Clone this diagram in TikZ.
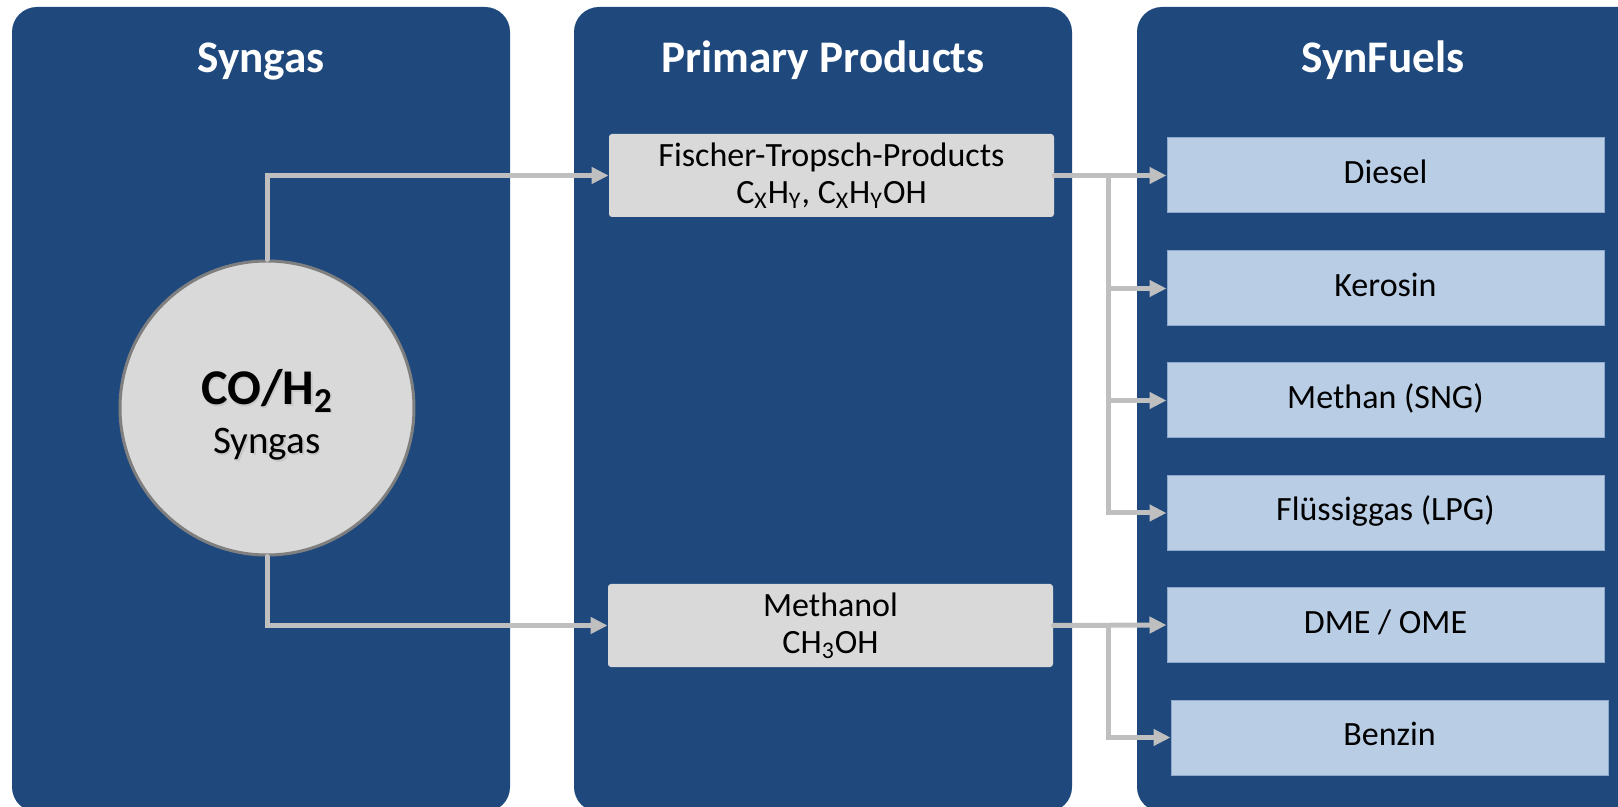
\documentclass[tikz,border=0pt]{standalone}
\usepackage{fontspec}
\setmainfont{Carlito}
\usetikzlibrary{arrows.meta}
\definecolor{panelblue}{HTML}{1F497D}
\definecolor{boxgray}{HTML}{D9D9D9}
\definecolor{fuelblue}{HTML}{B9CDE5}
\definecolor{fueledge}{HTML}{8FA9CC}
\definecolor{linegray}{HTML}{BFBFBF}
\definecolor{ringgray}{HTML}{7F7F7F}

\begin{document}
\begin{tikzpicture}[x=0.5pt,y=-0.5pt,
  panel/.style={fill=panelblue, rounded corners=12.5pt},
  coltitle/.style={text=white, anchor=base, inner sep=0pt,
    font=\fontsize{22.6}{26}\selectfont\bfseries},
  primbox/.style={fill=boxgray, rounded corners=1.5pt, minimum width=222.5pt,
    minimum height=41.5pt, inner sep=0pt, align=center,
    font=\fontsize{17}{18.5}\selectfont},
  fuelbox/.style={fill=fuelblue, draw=fueledge, line width=0.5pt,
    minimum width=218.5pt, minimum height=37.5pt, inner sep=0pt,
    font=\fontsize{17}{19}\selectfont, text height=0.8em, text depth=0em},
  conn/.style={draw=linegray, line width=2.5pt, line cap=round,
    -{Triangle[length=8.5pt,width=8pt]}},
  gastext/.style={align=center, inner sep=0pt,
    font=\fontsize{19.5}{24.5}\selectfont},
]
\useasboundingbox (0,0) rectangle (1618,807);
\clip (0,0) rectangle (1618,807);

% column backgrounds
\path[panel] (12,7) rectangle (510,812);
\path[panel] (574,7) rectangle (1072,812);
\path[panel] (1137,7) rectangle (1660,812);

% column headings
\node[coltitle] (t1) at (261,73) {Syngas};
\node[coltitle] (t2) at (823,73) {Primary Products};
\node[coltitle] (t3) at (1383,73) {SynFuels};

% syngas source
\node[circle, fill=boxgray, draw=ringgray, line width=1.5pt,
      minimum size=147pt, inner sep=0pt] (syn) at (267,408) {};
\node[gastext, text=black!22] (synshadow) at (268.5,416.5)
  {{\fontsize{25}{24.5}\selectfont\bfseries CO/H\textsubscript{2}}\\Syngas};
\node[gastext] (syntext) at (267,415)
  {{\fontsize{25}{24.5}\selectfont\bfseries CO/H\textsubscript{2}}\\Syngas};

% primary products
\node[primbox] (ft) at (831.5,175.5)
  {Fischer-Tropsch-Products\\C\textsubscript{X}H\textsubscript{Y}, C\textsubscript{X}H\textsubscript{Y}OH};
\node[primbox] (meoh) at (830.5,625.5) {Methanol\\CH\textsubscript{3}OH};

% synthetic fuels
\node[fuelbox] (diesel) at (1385.5,175.5) {Diesel};
\node[fuelbox] (kero)   at (1385.5,288.5) {Kerosin};
\node[fuelbox] (sng)    at (1385.5,400.5) {Methan (SNG)};
\node[fuelbox] (lpg)    at (1385.5,513)   {Flüssiggas (LPG)};
\node[fuelbox] (dme)    at (1385.5,625)   {DME / OME};
\node[fuelbox] (benzin) at (1389.5,737.5) {Benzin};

% junction points of the distribution lines
\coordinate (jft) at (1108,175.5);
\coordinate (jme) at (1108,625.5);

% connectors
\draw[conn] (syn.north) |- (ft.west);
\draw[conn] (syn.south) |- (meoh.west);
\draw[conn] (ft.east) -- (diesel.west);
\draw[conn] (jft) |- (kero.west);
\draw[conn] (jft) |- (sng.west);
\draw[conn] (jft) |- (lpg.west);
\draw[conn] (meoh.east) -- (dme.west);
\draw[conn] (jme) |- (benzin.west);
\end{tikzpicture}
\end{document}
